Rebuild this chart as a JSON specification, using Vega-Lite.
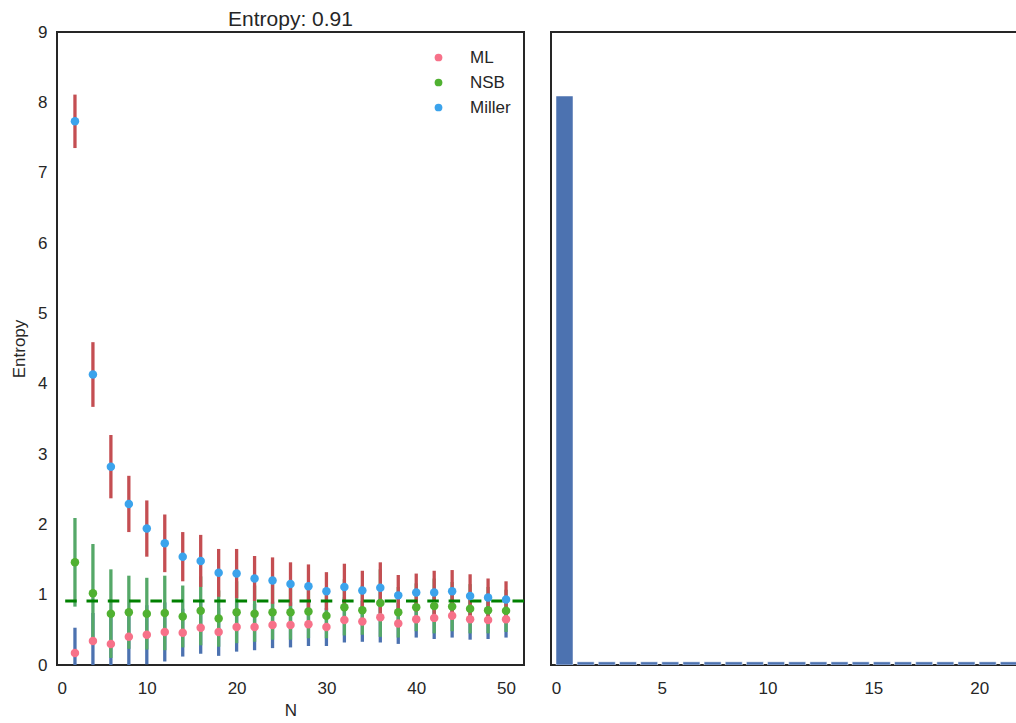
{
  "$schema": "https://vega.github.io/schema/vega-lite/v6.json",
  "background": "white",
  "padding": {"left": 9, "top": 8, "right": 0, "bottom": 0},
  "spacing": 23,
  "config": {
    "font": "Liberation Sans",
    "view": {"stroke": "#262626", "strokeWidth": 2},
    "axis": {
      "grid": false,
      "domain": false,
      "ticks": false,
      "labelFont": "Liberation Sans",
      "labelFontSize": 17,
      "labelColor": "#262626",
      "titleFont": "Liberation Sans",
      "titleFontSize": 17,
      "titleFontWeight": "normal",
      "titleColor": "#262626"
    },
    "axisX": {"labelPadding": 15, "titlePadding": 6},
    "axisY": {"labelPadding": 10, "titlePadding": 9},
    "legend": {
      "labelFont": "Liberation Sans",
      "labelFontSize": 17,
      "labelColor": "#262626",
      "padding": 0
    }
  },
  "hconcat": [
    {
      "width": 467,
      "height": 633,
      "title": {
        "text": "Entropy: 0.91",
        "fontSize": 21,
        "fontWeight": "normal",
        "color": "#262626",
        "font": "Liberation Sans",
        "frame": "group",
        "offset": -7
      },
      "data": {
        "values": [
          {"N": 2, "method": "ML", "value": 0.17, "lo": -0.19, "hi": 0.53},
          {"N": 4, "method": "ML", "value": 0.34, "lo": -0.06, "hi": 0.74},
          {"N": 6, "method": "ML", "value": 0.30, "lo": -0.08, "hi": 0.68},
          {"N": 8, "method": "ML", "value": 0.40, "lo": 0.00, "hi": 0.80},
          {"N": 10, "method": "ML", "value": 0.43, "lo": 0.01, "hi": 0.85},
          {"N": 12, "method": "ML", "value": 0.47, "lo": 0.05, "hi": 0.89},
          {"N": 14, "method": "ML", "value": 0.46, "lo": 0.12, "hi": 0.80},
          {"N": 16, "method": "ML", "value": 0.53, "lo": 0.16, "hi": 0.90},
          {"N": 18, "method": "ML", "value": 0.47, "lo": 0.13, "hi": 0.81},
          {"N": 20, "method": "ML", "value": 0.54, "lo": 0.19, "hi": 0.89},
          {"N": 22, "method": "ML", "value": 0.54, "lo": 0.21, "hi": 0.87},
          {"N": 24, "method": "ML", "value": 0.57, "lo": 0.24, "hi": 0.90},
          {"N": 26, "method": "ML", "value": 0.57, "lo": 0.25, "hi": 0.89},
          {"N": 28, "method": "ML", "value": 0.58, "lo": 0.27, "hi": 0.89},
          {"N": 30, "method": "ML", "value": 0.54, "lo": 0.27, "hi": 0.81},
          {"N": 32, "method": "ML", "value": 0.64, "lo": 0.32, "hi": 0.96},
          {"N": 34, "method": "ML", "value": 0.62, "lo": 0.33, "hi": 0.91},
          {"N": 36, "method": "ML", "value": 0.68, "lo": 0.32, "hi": 1.04},
          {"N": 38, "method": "ML", "value": 0.59, "lo": 0.30, "hi": 0.88},
          {"N": 40, "method": "ML", "value": 0.65, "lo": 0.39, "hi": 0.91},
          {"N": 42, "method": "ML", "value": 0.67, "lo": 0.37, "hi": 0.97},
          {"N": 44, "method": "ML", "value": 0.70, "lo": 0.39, "hi": 1.01},
          {"N": 46, "method": "ML", "value": 0.65, "lo": 0.36, "hi": 0.94},
          {"N": 48, "method": "ML", "value": 0.64, "lo": 0.37, "hi": 0.91},
          {"N": 50, "method": "ML", "value": 0.65, "lo": 0.39, "hi": 0.91},

          {"N": 2, "method": "NSB", "value": 1.46, "lo": 0.83, "hi": 2.09},
          {"N": 4, "method": "NSB", "value": 1.02, "lo": 0.32, "hi": 1.72},
          {"N": 6, "method": "NSB", "value": 0.73, "lo": 0.10, "hi": 1.36},
          {"N": 8, "method": "NSB", "value": 0.75, "lo": 0.23, "hi": 1.27},
          {"N": 10, "method": "NSB", "value": 0.73, "lo": 0.22, "hi": 1.24},
          {"N": 12, "method": "NSB", "value": 0.74, "lo": 0.21, "hi": 1.27},
          {"N": 14, "method": "NSB", "value": 0.69, "lo": 0.25, "hi": 1.13},
          {"N": 16, "method": "NSB", "value": 0.77, "lo": 0.28, "hi": 1.26},
          {"N": 18, "method": "NSB", "value": 0.66, "lo": 0.26, "hi": 1.06},
          {"N": 20, "method": "NSB", "value": 0.75, "lo": 0.31, "hi": 1.19},
          {"N": 22, "method": "NSB", "value": 0.73, "lo": 0.33, "hi": 1.13},
          {"N": 24, "method": "NSB", "value": 0.75, "lo": 0.36, "hi": 1.14},
          {"N": 26, "method": "NSB", "value": 0.75, "lo": 0.36, "hi": 1.14},
          {"N": 28, "method": "NSB", "value": 0.76, "lo": 0.38, "hi": 1.14},
          {"N": 30, "method": "NSB", "value": 0.70, "lo": 0.38, "hi": 1.02},
          {"N": 32, "method": "NSB", "value": 0.82, "lo": 0.42, "hi": 1.22},
          {"N": 34, "method": "NSB", "value": 0.78, "lo": 0.43, "hi": 1.13},
          {"N": 36, "method": "NSB", "value": 0.88, "lo": 0.40, "hi": 1.36},
          {"N": 38, "method": "NSB", "value": 0.75, "lo": 0.39, "hi": 1.11},
          {"N": 40, "method": "NSB", "value": 0.82, "lo": 0.48, "hi": 1.16},
          {"N": 42, "method": "NSB", "value": 0.84, "lo": 0.45, "hi": 1.23},
          {"N": 44, "method": "NSB", "value": 0.83, "lo": 0.48, "hi": 1.18},
          {"N": 46, "method": "NSB", "value": 0.80, "lo": 0.45, "hi": 1.15},
          {"N": 48, "method": "NSB", "value": 0.78, "lo": 0.45, "hi": 1.11},
          {"N": 50, "method": "NSB", "value": 0.77, "lo": 0.47, "hi": 1.07},

          {"N": 2, "method": "Miller", "value": 7.73, "lo": 7.35, "hi": 8.11},
          {"N": 4, "method": "Miller", "value": 4.13, "lo": 3.67, "hi": 4.59},
          {"N": 6, "method": "Miller", "value": 2.82, "lo": 2.37, "hi": 3.27},
          {"N": 8, "method": "Miller", "value": 2.29, "lo": 1.89, "hi": 2.69},
          {"N": 10, "method": "Miller", "value": 1.94, "lo": 1.54, "hi": 2.34},
          {"N": 12, "method": "Miller", "value": 1.73, "lo": 1.32, "hi": 2.14},
          {"N": 14, "method": "Miller", "value": 1.54, "lo": 1.19, "hi": 1.89},
          {"N": 16, "method": "Miller", "value": 1.48, "lo": 1.11, "hi": 1.85},
          {"N": 18, "method": "Miller", "value": 1.31, "lo": 0.97, "hi": 1.65},
          {"N": 20, "method": "Miller", "value": 1.30, "lo": 0.95, "hi": 1.65},
          {"N": 22, "method": "Miller", "value": 1.23, "lo": 0.91, "hi": 1.55},
          {"N": 24, "method": "Miller", "value": 1.20, "lo": 0.87, "hi": 1.53},
          {"N": 26, "method": "Miller", "value": 1.15, "lo": 0.84, "hi": 1.46},
          {"N": 28, "method": "Miller", "value": 1.12, "lo": 0.81, "hi": 1.43},
          {"N": 30, "method": "Miller", "value": 1.05, "lo": 0.78, "hi": 1.32},
          {"N": 32, "method": "Miller", "value": 1.11, "lo": 0.78, "hi": 1.44},
          {"N": 34, "method": "Miller", "value": 1.06, "lo": 0.78, "hi": 1.34},
          {"N": 36, "method": "Miller", "value": 1.10, "lo": 0.74, "hi": 1.46},
          {"N": 38, "method": "Miller", "value": 0.99, "lo": 0.70, "hi": 1.28},
          {"N": 40, "method": "Miller", "value": 1.03, "lo": 0.76, "hi": 1.30},
          {"N": 42, "method": "Miller", "value": 1.03, "lo": 0.72, "hi": 1.34},
          {"N": 44, "method": "Miller", "value": 1.05, "lo": 0.75, "hi": 1.35},
          {"N": 46, "method": "Miller", "value": 0.98, "lo": 0.67, "hi": 1.29},
          {"N": 48, "method": "Miller", "value": 0.96, "lo": 0.69, "hi": 1.23},
          {"N": 50, "method": "Miller", "value": 0.93, "lo": 0.67, "hi": 1.19}
        ]
      },
      "layer": [
        {
          "transform": [{"filter": "datum.method === 'ML'"}],
          "mark": {"type": "rule", "color": "#4c72b0", "strokeWidth": 3.3, "clip": true},
          "encoding": {
            "x": {
              "field": "N",
              "type": "quantitative",
              "title": "N",
              "scale": {"domain": [0, 52], "nice": false},
              "axis": {"values": [0, 10, 20, 30, 40, 50], "format": "d"}
            },
            "y": {"field": "lo", "type": "quantitative", "title": "Entropy", "scale": {"domain": [0, 9], "nice": false}, "axis": {"values": [0, 1, 2, 3, 4, 5, 6, 7, 8, 9], "format": "d"}},
            "y2": {"field": "hi"}
          }
        },
        {
          "transform": [{"filter": "datum.method === 'NSB'"}],
          "mark": {"type": "rule", "color": "#55a868", "strokeWidth": 3.3, "clip": true},
          "encoding": {
            "x": {"field": "N", "type": "quantitative", "title": "N"},
            "y": {"field": "lo", "type": "quantitative", "title": "Entropy"},
            "y2": {"field": "hi"}
          }
        },
        {
          "transform": [{"filter": "datum.method === 'Miller'"}],
          "mark": {"type": "rule", "color": "#c44e52", "strokeWidth": 3.3, "clip": true},
          "encoding": {
            "x": {"field": "N", "type": "quantitative", "title": "N"},
            "y": {"field": "lo", "type": "quantitative", "title": "Entropy"},
            "y2": {"field": "hi"}
          }
        },
        {
          "data": {"values": [{"truth": 0.91}]},
          "mark": {"type": "rule", "color": "#008000", "strokeWidth": 3, "strokeDash": [11.5, 9.8]},
          "encoding": {
            "y": {"field": "truth", "type": "quantitative", "title": "Entropy"}
          }
        },
        {
          "mark": {"type": "circle", "size": 72, "opacity": 1},
          "encoding": {
            "x": {"field": "N", "type": "quantitative", "title": "N"},
            "y": {"field": "value", "type": "quantitative", "title": "Entropy"},
            "color": {
              "field": "method",
              "type": "nominal",
              "scale": {"domain": ["ML", "NSB", "Miller"], "range": ["#f77189", "#50b131", "#3ba3ec"]},
              "legend": {
                "title": null,
                "orient": "none",
                "legendX": 373,
                "legendY": 17,
                "symbolType": "circle",
                "symbolSize": 60,
                "symbolStrokeWidth": 0,
                "labelOffset": 23,
                "rowPadding": 7
              }
            }
          }
        }
      ]
    },
    {
      "width": 467,
      "height": 633,
      "data": {
        "values": [
          {"k": 0, "p": 8.09},
          {"k": 1, "p": 0.045},
          {"k": 2, "p": 0.045},
          {"k": 3, "p": 0.045},
          {"k": 4, "p": 0.045},
          {"k": 5, "p": 0.045},
          {"k": 6, "p": 0.045},
          {"k": 7, "p": 0.045},
          {"k": 8, "p": 0.045},
          {"k": 9, "p": 0.045},
          {"k": 10, "p": 0.045},
          {"k": 11, "p": 0.045},
          {"k": 12, "p": 0.045},
          {"k": 13, "p": 0.045},
          {"k": 14, "p": 0.045},
          {"k": 15, "p": 0.045},
          {"k": 16, "p": 0.045},
          {"k": 17, "p": 0.045},
          {"k": 18, "p": 0.045},
          {"k": 19, "p": 0.045},
          {"k": 20, "p": 0.045},
          {"k": 21, "p": 0.045}
        ]
      },
      "mark": {"type": "bar", "color": "#4c72b0", "width": 17, "xOffset": 8.5, "stroke": "#ffffff", "strokeWidth": 0.5, "clip": true},
      "encoding": {
        "x": {
          "field": "k",
          "type": "quantitative",
          "title": null,
          "scale": {"domain": [0, 21.6], "nice": false},
          "axis": {"values": [0, 5, 10, 15, 20], "format": "d"}
        },
        "y": {
          "field": "p",
          "type": "quantitative",
          "scale": {"domain": [0, 9], "nice": false},
          "axis": null
        }
      }
    }
  ]
}
